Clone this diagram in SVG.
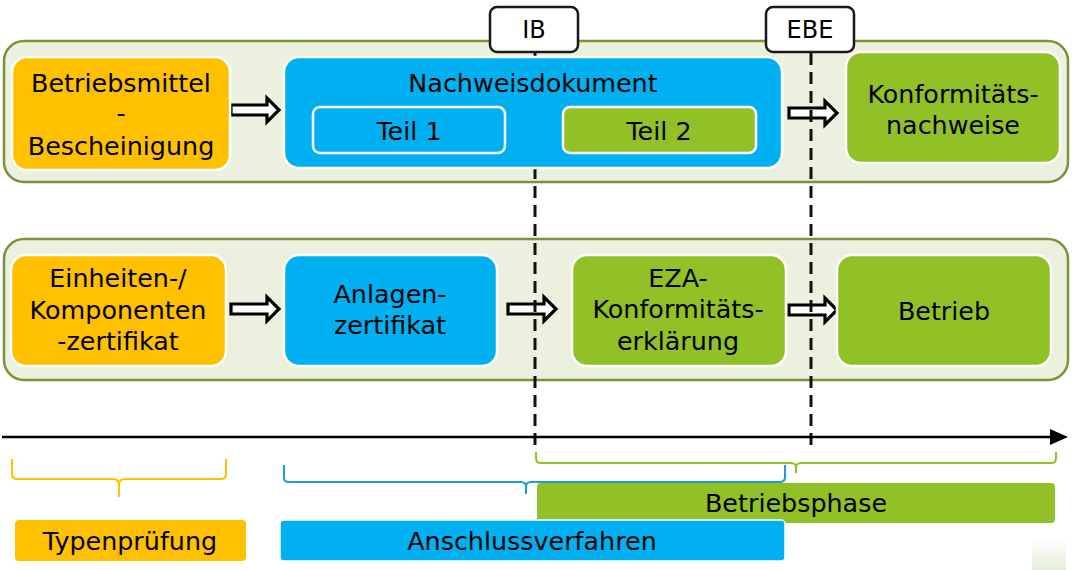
<svg xmlns="http://www.w3.org/2000/svg" width="1074" height="570" viewBox="0 0 1074 570">
<style>
text{font-family:"DejaVu Sans","Verdana",sans-serif;font-size:25.4px;fill:#000;text-anchor:middle}
.cont{fill:#EBF1DE;stroke:#77933C;stroke-width:2.5}
.y{fill:#FFC000;stroke:#fff;stroke-width:2.5}
.b{fill:#00B0F0;stroke:#fff;stroke-width:2.5}
.g{fill:#92C127;stroke:#fff;stroke-width:2.5}
.lbl{fill:#fff;stroke:#1a1a1a;stroke-width:2.5}
.arr{fill:#fff;stroke:#000;stroke-width:3.2;stroke-linejoin:miter}
.dash{stroke:#111;stroke-width:3;stroke-dasharray:12 7;fill:none}
.brace{fill:none;stroke-width:2;stroke-linejoin:round}
</style>
<defs>
<path id="ba" d="M0,-5 H36 V-12 L48,0 L36,12 V5 H0 Z"/>
<linearGradient id="fade" x1="0" y1="0" x2="0" y2="1"><stop offset="0" stop-color="#fff"/><stop offset="1" stop-color="#e3ecd8"/></linearGradient>
</defs>

<g id="containers">
<rect class="cont" x="4" y="41" width="1064" height="141" rx="20"/>
<rect class="cont" x="4" y="239" width="1064" height="141" rx="20"/>
</g>

<g id="connectors">
<use href="#ba" class="arr" x="231" y="110"/>
<use href="#ba" class="arr" x="789" y="113"/>
<use href="#ba" class="arr" x="231" y="309"/>
<use href="#ba" class="arr" x="508" y="309"/>
<use href="#ba" class="arr" x="789" y="310"/>
<line class="dash" x1="535" y1="53" x2="535" y2="447"/>
<line class="dash" x1="811" y1="53" x2="811" y2="447"/>
<line x1="2" y1="437" x2="1052" y2="437" stroke="#000" stroke-width="2.5"/>
<path d="M1050,429 L1068,437 L1050,445 Z" fill="#000"/>
</g>

<g id="n-betriebsmittel">
<rect class="y" x="12" y="57" width="218" height="113" rx="15"/>
<text x="121" y="92">Betriebsmittel</text>
<text x="121" y="122">-</text>
<text x="121" y="155">Bescheinigung</text>
</g>
<g id="n-nachweisdokument">
<rect class="b" x="284" y="57" width="498" height="111" rx="15"/>
<text x="533" y="92">Nachweisdokument</text>
</g>
<g id="n-teil1">
<rect class="b" x="313" y="107" width="192" height="46" rx="7"/>
<text x="409" y="140">Teil 1</text>
</g>
<g id="n-teil2">
<rect class="g" x="563" y="107" width="193" height="46" rx="7"/>
<text x="659" y="140">Teil 2</text>
</g>
<g id="n-konformitaetsnachweise">
<rect class="g" x="846" y="52" width="214" height="111" rx="15"/>
<text x="953" y="103">Konformitäts-</text>
<text x="953" y="134">nachweise</text>
</g>

<g id="n-einheiten">
<rect class="y" x="11" y="255" width="215" height="111" rx="15"/>
<text x="118" y="287">Einheiten-/</text>
<text x="118" y="319">Komponenten</text>
<text x="118" y="350">-zertifikat</text>
</g>
<g id="n-anlagenzertifikat">
<rect class="b" x="284" y="255" width="213" height="111" rx="15"/>
<text x="390" y="303">Anlagen-</text>
<text x="390" y="334">zertifikat</text>
</g>
<g id="n-eza">
<rect class="g" x="572" y="255" width="214" height="111" rx="15"/>
<text x="678" y="287">EZA-</text>
<text x="678" y="318">Konformitäts-</text>
<text x="678" y="350">erklärung</text>
</g>
<g id="n-betrieb">
<rect class="g" x="837" y="255" width="214" height="111" rx="15"/>
<text x="944" y="320">Betrieb</text>
</g>

<g id="n-ib">
<rect class="lbl" x="490" y="7" width="88" height="45" rx="7"/>
<text x="534" y="38" style="font-size:24px">IB</text>
</g>
<g id="n-ebe">
<rect class="lbl" x="766" y="7" width="88" height="45" rx="7"/>
<text x="810" y="38" style="font-size:24px">EBE</text>
</g>

<g id="braces">
<path class="brace" stroke="#FFC000" d="M12,459 V474 Q12,479 17,479 H113 Q119,479 119,485 V497 M119,485 Q119,479 125,479 H221 Q226,479 226,474 V459"/>
<path class="brace" stroke="#1E9CD8" d="M284,465 V478 Q284,482 289,482 H521 Q526,482 526,487 V494 M526,487 Q526,482 531,482 H780 Q785,482 785,477 V465"/>
<path class="brace" stroke="#92C127" d="M536,452 V458 Q536,463 541,463 H791 Q796,463 796,468 V473 M796,468 Q796,463 801,463 H1051 Q1056,463 1056,458 V452"/>
</g>

<g id="n-betriebsphase">
<rect x="537" y="483" width="518" height="40" rx="4" fill="#92C127"/>
<text x="796" y="512">Betriebsphase</text>
</g>
<g id="n-typenpruefung">
<rect x="15" y="520" width="231" height="41" rx="4" fill="#FFC000"/>
<text x="130" y="550">Typenprüfung</text>
</g>
<g id="n-anschlussverfahren">
<rect x="280" y="520" width="505" height="41" rx="4" fill="#00B0F0" stroke="#fff" stroke-width="1.5"/>
<text x="532" y="550">Anschlussverfahren</text>
</g>
<rect x="1032" y="540" width="34" height="30" fill="url(#fade)"/>
</svg>
